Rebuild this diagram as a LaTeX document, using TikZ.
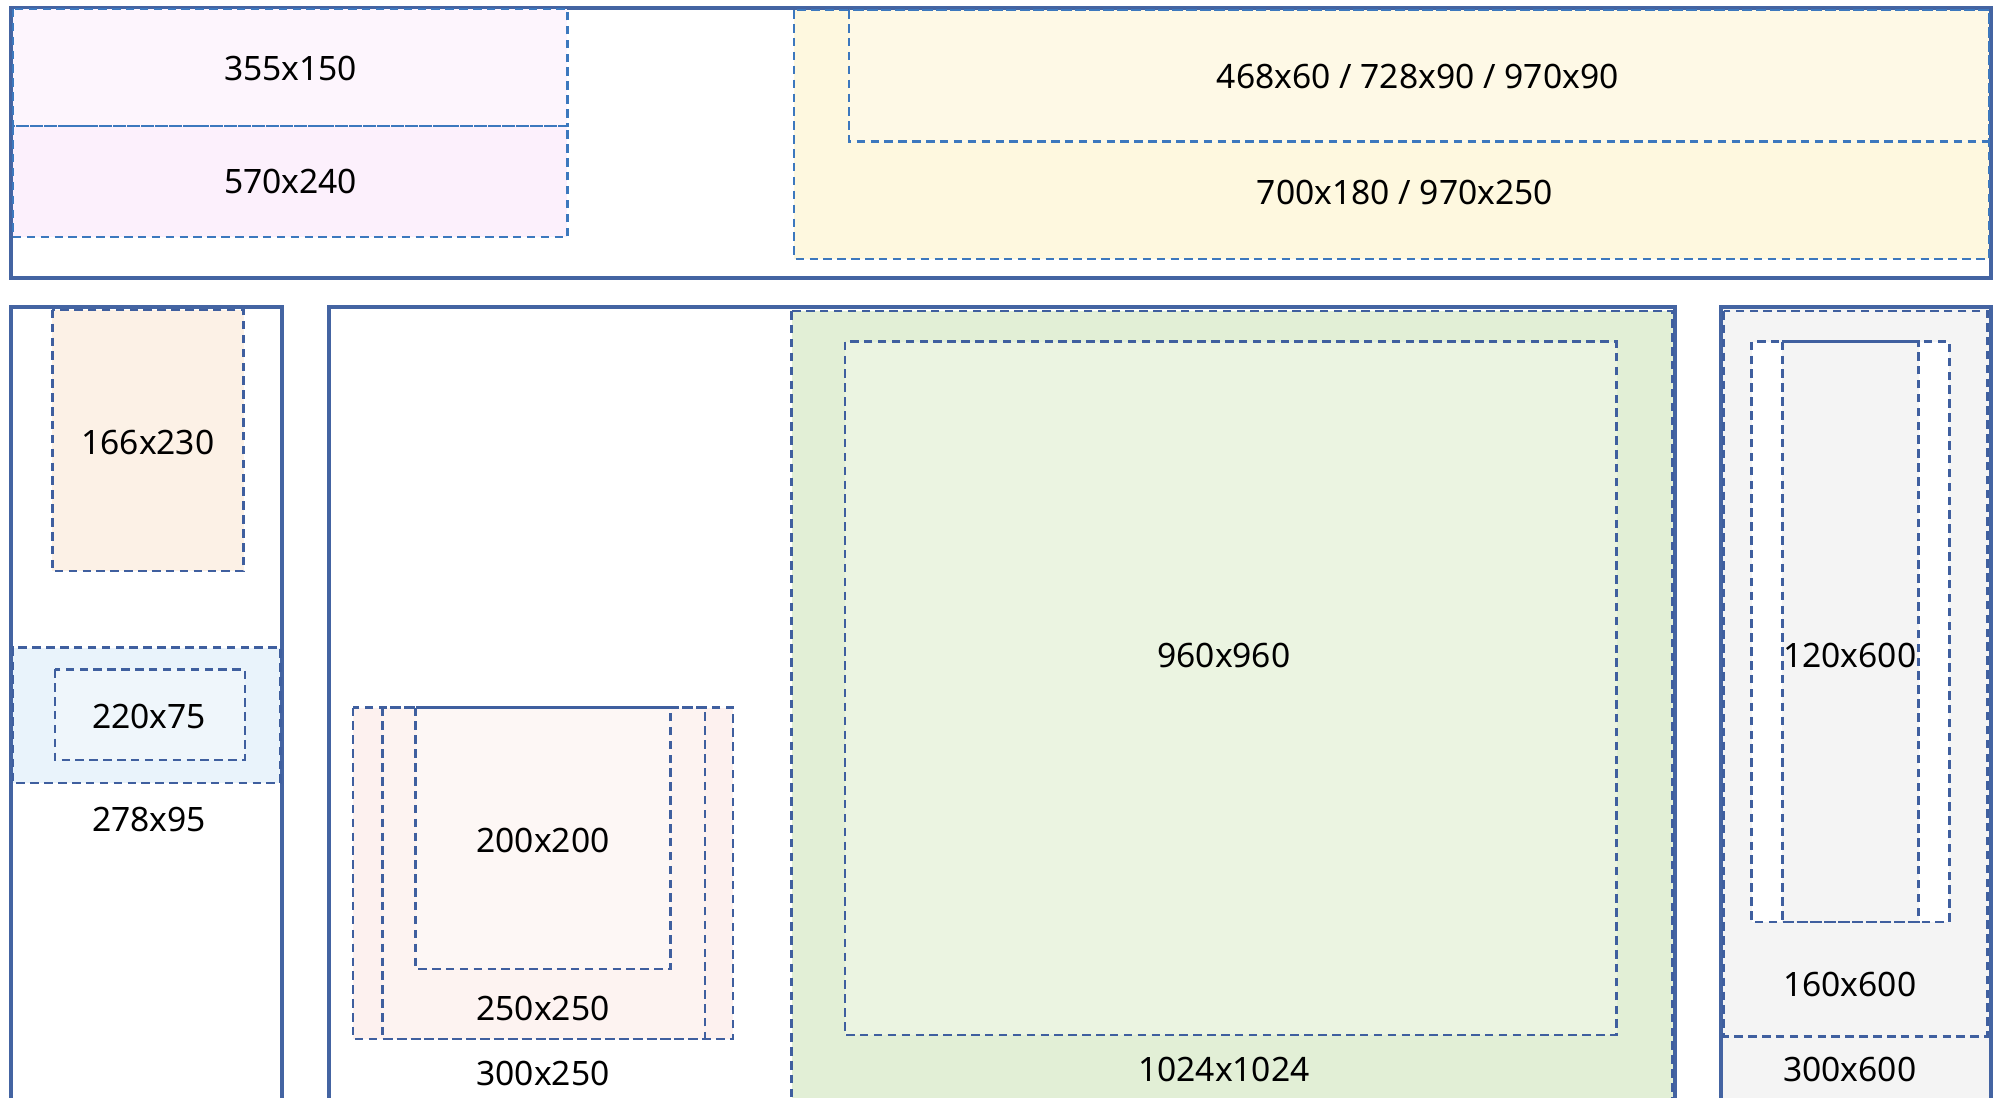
\documentclass[tikz,border=0pt]{standalone}
\usepackage{fontspec}
\setmainfont{Noto Sans}
\begin{document}
\begin{tikzpicture}[x=0.02cm,y=-0.02cm,
  solidbox/.style={draw=cBorder,line width=1.8pt},
  dbox/.style={draw=cDash,line width=1.1pt,dash pattern=on 3.8pt off 2.4pt},
  dtop/.style={draw=cDashTop,line width=1.1pt,dash pattern=on 3.8pt off 2.4pt},
  lbl/.style={font=\fontsize{15}{17}\selectfont,text=black,inner sep=0pt}]
\definecolor{cBorder}{HTML}{4464A2}
\definecolor{cDash}{HTML}{3F5F9F}
\definecolor{cDashTop}{HTML}{3C78BE}
\definecolor{cPinkA}{HTML}{FDF5FD}
\definecolor{cPinkB}{HTML}{FCF0FC}
\definecolor{cYelA}{HTML}{FEF8DF}
\definecolor{cYelB}{HTML}{FEF9E6}
\definecolor{cOrange}{HTML}{FCF1E6}
\definecolor{cBlueA}{HTML}{E9F3FB}
\definecolor{cBlueB}{HTML}{EFF6FB}
\definecolor{cGreenA}{HTML}{E2EFD6}
\definecolor{cGreenB}{HTML}{EBF4E1}
\definecolor{cRoseA}{HTML}{FDF1EF}
\definecolor{cRoseB}{HTML}{FDF3F1}
\definecolor{cRoseC}{HTML}{FDF7F5}
\definecolor{cGray}{HTML}{F4F4F4}
\clip (0,0) rectangle (1568,861);
\fill[white] (0,0) rectangle (1568,861);

% ---------- top banner ----------
\draw[solidbox,fill=white] (9,6) rectangle (1562,218);
\fill[cPinkA] (10,7) rectangle (445,99);
\fill[cPinkB] (10,99) rectangle (445,186);
\draw[dtop] (10,7) rectangle (445,99);
\draw[dtop] (10,99) rectangle (445,186);
\node[lbl] (t355) at (228,54) {355x150};
\node[lbl] (t570) at (228,142) {570x240};

\fill[cYelA] (623,8) rectangle (1560,203);
\fill[cYelB] (666,8) rectangle (1560,111);
\draw[dtop] (623,8) rectangle (1560,203);
\draw[dtop] (666,8) rectangle (1560,111);
\node[lbl] (t468) at (1112,60) {468x60 / 728x90 / 970x90};
\node[lbl] (t700) at (1102,151) {700x180 / 970x250};

% ---------- left column ----------
\draw[solidbox,fill=white] (9,241) rectangle (221,880);
\fill[cOrange] (41,243) rectangle (191,448);
\draw[dbox] (41,243) rectangle (191,448);
\node[lbl] (t166) at (116,347) {166x230};
\fill[cBlueA] (10,508) rectangle (220,614);
\draw[dbox] (10,508) rectangle (220,614);
\fill[cBlueB] (43,525) rectangle (192,596);
\draw[dbox] (43,525) rectangle (192,596);
\node[lbl] (t220) at (117,562) {220x75};
\node[lbl] (t278) at (117,643) {278x95};

% ---------- middle ----------
\draw[solidbox,fill=white] (258,241) rectangle (1314,880);
\fill[cGreenA] (621,244) rectangle (1312,880);
\draw[dbox] (621,244) rectangle (1312,880);
\fill[cGreenB] (663,268) rectangle (1268,812);
\draw[dbox] (663,268) rectangle (1268,812);
\node[lbl] (t960) at (960,514) {960x960};
\node[lbl] (t1024) at (960,839) {1024x1024};

\fill[cRoseA] (277,555) rectangle (575,815);
\fill[cRoseB] (300,555) rectangle (553,815);
\fill[cRoseC] (326,555) rectangle (526,760);
\draw[dbox] (277,555) rectangle (575,815);
\draw[dbox] (300,555) rectangle (553,815);
\draw[dbox] (326,555) rectangle (526,760);
\node[lbl] (t200) at (426,659) {200x200};
\node[lbl] (t250) at (426,791) {250x250};
\node[lbl] (t300) at (426,842) {300x250};

% ---------- right column ----------
\draw[solidbox,fill=cGray] (1350,241) rectangle (1562,880);
\draw[dbox] (1352,244) rectangle (1559,813);
\fill[white] (1374,268) rectangle (1529,723);
\fill[cGray] (1398,268) rectangle (1505,723);
\draw[dbox] (1374,268) rectangle (1529,723);
\draw[dbox] (1398,268) rectangle (1505,723);
\node[lbl] (t120) at (1451,514) {120x600};
\node[lbl] (t160) at (1451,772) {160x600};
\node[lbl] (t300b) at (1451,839) {300x600};
\end{tikzpicture}
\end{document}
